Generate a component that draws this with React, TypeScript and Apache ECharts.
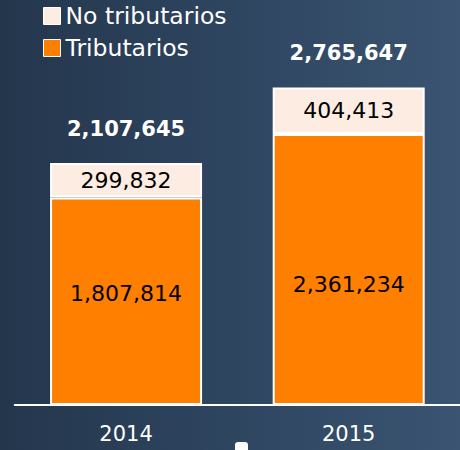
import React, { useEffect, useRef } from "react";
import * as echarts from "echarts";

const categories = ["2014", "2015"];
const tributarios = [1807814, 2361234];
const noTributarios = [299832, 404413];
const totals = [2107645, 2765647];
const tributariosLabelOffsets = [-8, 15];

const fmt = (v: number) => v.toLocaleString("en-US");
const FONT = "DejaVu Sans";

export default function App() {
  const ref = useRef<HTMLDivElement>(null);
  useEffect(() => {
    if (!ref.current) return;
    const chart = echarts.init(ref.current, null, { renderer: "svg" });
    chart.setOption({
      animation: false,
      backgroundColor: {
        type: "linear",
        x: 0,
        y: 0,
        x2: 1,
        y2: 0,
        colorStops: [
          { offset: 0, color: "#24364c" },
          { offset: 0.5, color: "#2e4560" },
          { offset: 1, color: "#3a5471" },
        ],
      },
      legend: {
        orient: "vertical",
        left: 43,
        top: 4,
        padding: 0,
        itemWidth: 17,
        itemHeight: 17,
        itemGap: 8,
        icon: "rect",
        data: ["No tributarios", "Tributarios"],
        itemStyle: { borderColor: "#ffffff", borderWidth: 1 },
        textStyle: { color: "#ffffff", fontSize: 23.5, fontFamily: FONT, lineHeight: 24 },
      },
      grid: { left: 14.75, right: -8, top: 3.13, bottom: 45, containLabel: false },
      xAxis: {
        type: "category",
        data: categories,
        axisLine: { show: true, lineStyle: { color: "#ffffff", width: 2 } },
        axisTick: { show: false },
        axisLabel: { color: "#ffffff", fontSize: 21, fontFamily: FONT, margin: 18 },
      },
      yAxis: { type: "value", min: 0, max: 3500000, show: false, splitLine: { show: false } },
      series: [
        {
          name: "Tributarios",
          type: "bar",
          stack: "t",
          barWidth: 152,
          data: tributarios.map((v, i) => ({
            value: v,
            label: { offset: [0, tributariosLabelOffsets[i]] },
          })),
          itemStyle: { color: "#ff7f00", borderColor: "#ffffff", borderWidth: 2 },
          label: {
            show: true,
            position: "inside",
            color: "#000000",
            fontSize: 22,
            fontFamily: FONT,
            formatter: (p: any) => fmt(p.value),
          },
        },
        {
          name: "No tributarios",
          type: "bar",
          stack: "t",
          barWidth: 152,
          data: noTributarios,
          itemStyle: { color: "#fdece2", borderColor: "#ffffff", borderWidth: 2 },
          label: {
            show: true,
            position: "inside",
            color: "#000000",
            fontSize: 22,
            fontFamily: FONT,
            formatter: (p: any) => fmt(p.value),
          },
        },
        {
          name: "Total",
          type: "bar",
          stack: "t",
          barWidth: 152,
          data: totals.map(() => 0),
          itemStyle: { color: "transparent", borderWidth: 0 },
          label: {
            show: true,
            position: "top",
            distance: 24,
            color: "#ffffff",
            fontSize: 21,
            fontWeight: "bold",
            fontFamily: FONT,
            formatter: (p: any) => fmt(totals[p.dataIndex]),
          },
        },
      ],
      graphic: [
        {
          type: "rect",
          shape: { x: 235, y: 442, width: 13, height: 12, r: [3, 3, 0, 0] },
          style: { fill: "#ffffff" },
        },
      ],
    });
    return () => chart.dispose();
  }, []);
  return (
    <div
      ref={ref}
      style={{ position: "fixed", left: 0, top: 0, width: 460, height: 450 }}
    />
  );
}
